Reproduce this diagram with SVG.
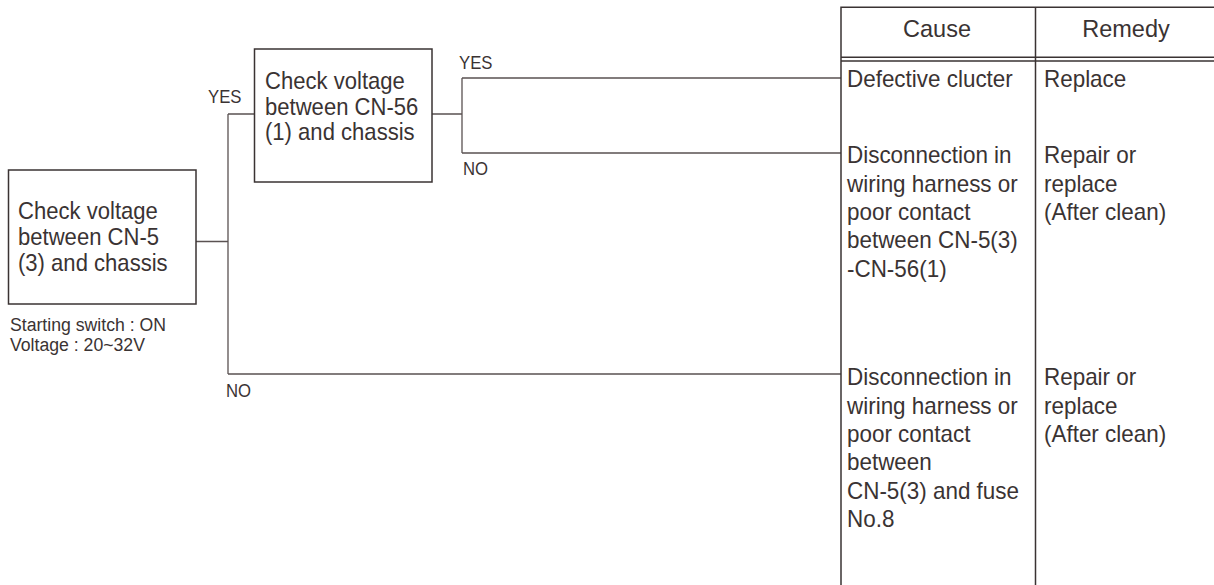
<svg xmlns="http://www.w3.org/2000/svg" width="1214" height="585" viewBox="0 0 1214 585">
<style>
  text { font-family: "Liberation Sans", Arial, sans-serif; fill: #3a3333; }
  .box { fill: #ffffff; stroke: #3a3333; stroke-width: 1.5; }
  .ln { fill: none; stroke: #5a5252; stroke-width: 1.3; }
  .tb { fill: none; stroke: #3a3333; stroke-width: 1.5; }
  .bt { font-size: 24px; }
  .lb { font-size: 19px; }
  .sm { font-size: 19px; }
  .tt { font-size: 24px; }
  .hd { font-size: 24px; }
</style>
<rect width="1214" height="585" fill="#ffffff"/>
<g id="connectors">
  <path class="ln" d="M196,241.5 H228 M228,114 V374 M228,114 H255 M228,374 H841"/>
  <path class="ln" d="M432,114 H462 M462,78 V153 M462,78 H841 M462,153 H841"/>
</g>
<g id="node-check-cn5">
  <rect class="box" x="8.5" y="170" width="187.5" height="134"/>
  <g transform="translate(18,0) scale(0.92,1)">
    <text class="bt" x="0" y="219.3">Check voltage</text>
    <text class="bt" x="0" y="245">between CN-5</text>
    <text class="bt" x="0" y="270.7">(3) and chassis</text>
  </g>
  <g transform="translate(10,0) scale(0.93,1)">
    <text class="sm" x="0" y="331">Starting switch : ON</text>
    <text class="sm" x="0" y="351">Voltage : 20~32V</text>
  </g>
</g>
<g id="node-check-cn56">
  <rect class="box" x="254.5" y="49" width="177.5" height="133"/>
  <g transform="translate(265,0) scale(0.92,1)">
    <text class="bt" x="0" y="89.5">Check voltage</text>
    <text class="bt" x="0" y="115">between CN-56</text>
    <text class="bt" x="0" y="140.5">(1) and chassis</text>
  </g>
</g>
<g id="labels">
  <g transform="translate(208,0) scale(0.88,1)"><text class="lb" x="0" y="102.7">YES</text></g>
  <g transform="translate(459,0) scale(0.88,1)"><text class="lb" x="0" y="69">YES</text></g>
  <g transform="translate(463,0) scale(0.88,1)"><text class="lb" x="0" y="175">NO</text></g>
  <g transform="translate(226,0) scale(0.88,1)"><text class="lb" x="0" y="397">NO</text></g>
</g>
<g id="table">
  <path class="tb" d="M841,585 V7.3 H1214 M1035.5,7.3 V585 M841,57.3 H1214 M841,61 H1214"/>
  <g transform="translate(937,0) scale(0.98,1)"><text class="hd" x="0" y="36.7" text-anchor="middle">Cause</text></g>
  <g transform="translate(1126,0) scale(0.98,1)"><text class="hd" x="0" y="36.7" text-anchor="middle">Remedy</text></g>
  <g id="row1">
    <g transform="translate(847,0) scale(0.935,1)"><text class="tt" x="0" y="87.3">Defective clucter</text></g>
    <g transform="translate(1044,0) scale(0.935,1)"><text class="tt" x="0" y="87.3">Replace</text></g>
  </g>
  <g id="row2">
    <g transform="translate(847,0) scale(0.935,1)">
      <text class="tt" x="0" y="163.5">Disconnection in</text>
      <text class="tt" x="0" y="191.8">wiring harness or</text>
      <text class="tt" x="0" y="220.1">poor contact</text>
      <text class="tt" x="0" y="248.4">between CN-5(3)</text>
      <text class="tt" x="0" y="276.7">-CN-56(1)</text>
    </g>
    <g transform="translate(1044,0) scale(0.935,1)">
      <text class="tt" x="0" y="163.5">Repair or</text>
      <text class="tt" x="0" y="191.8">replace</text>
      <text class="tt" x="0" y="220.1">(After clean)</text>
    </g>
  </g>
  <g id="row3">
    <g transform="translate(847,0) scale(0.935,1)">
      <text class="tt" x="0" y="385.5">Disconnection in</text>
      <text class="tt" x="0" y="413.8">wiring harness or</text>
      <text class="tt" x="0" y="442.1">poor contact</text>
      <text class="tt" x="0" y="470.4">between</text>
      <text class="tt" x="0" y="498.7">CN-5(3) and fuse</text>
      <text class="tt" x="0" y="527">No.8</text>
    </g>
    <g transform="translate(1044,0) scale(0.935,1)">
      <text class="tt" x="0" y="385.5">Repair or</text>
      <text class="tt" x="0" y="413.8">replace</text>
      <text class="tt" x="0" y="442.1">(After clean)</text>
    </g>
  </g>
</g>
</svg>
